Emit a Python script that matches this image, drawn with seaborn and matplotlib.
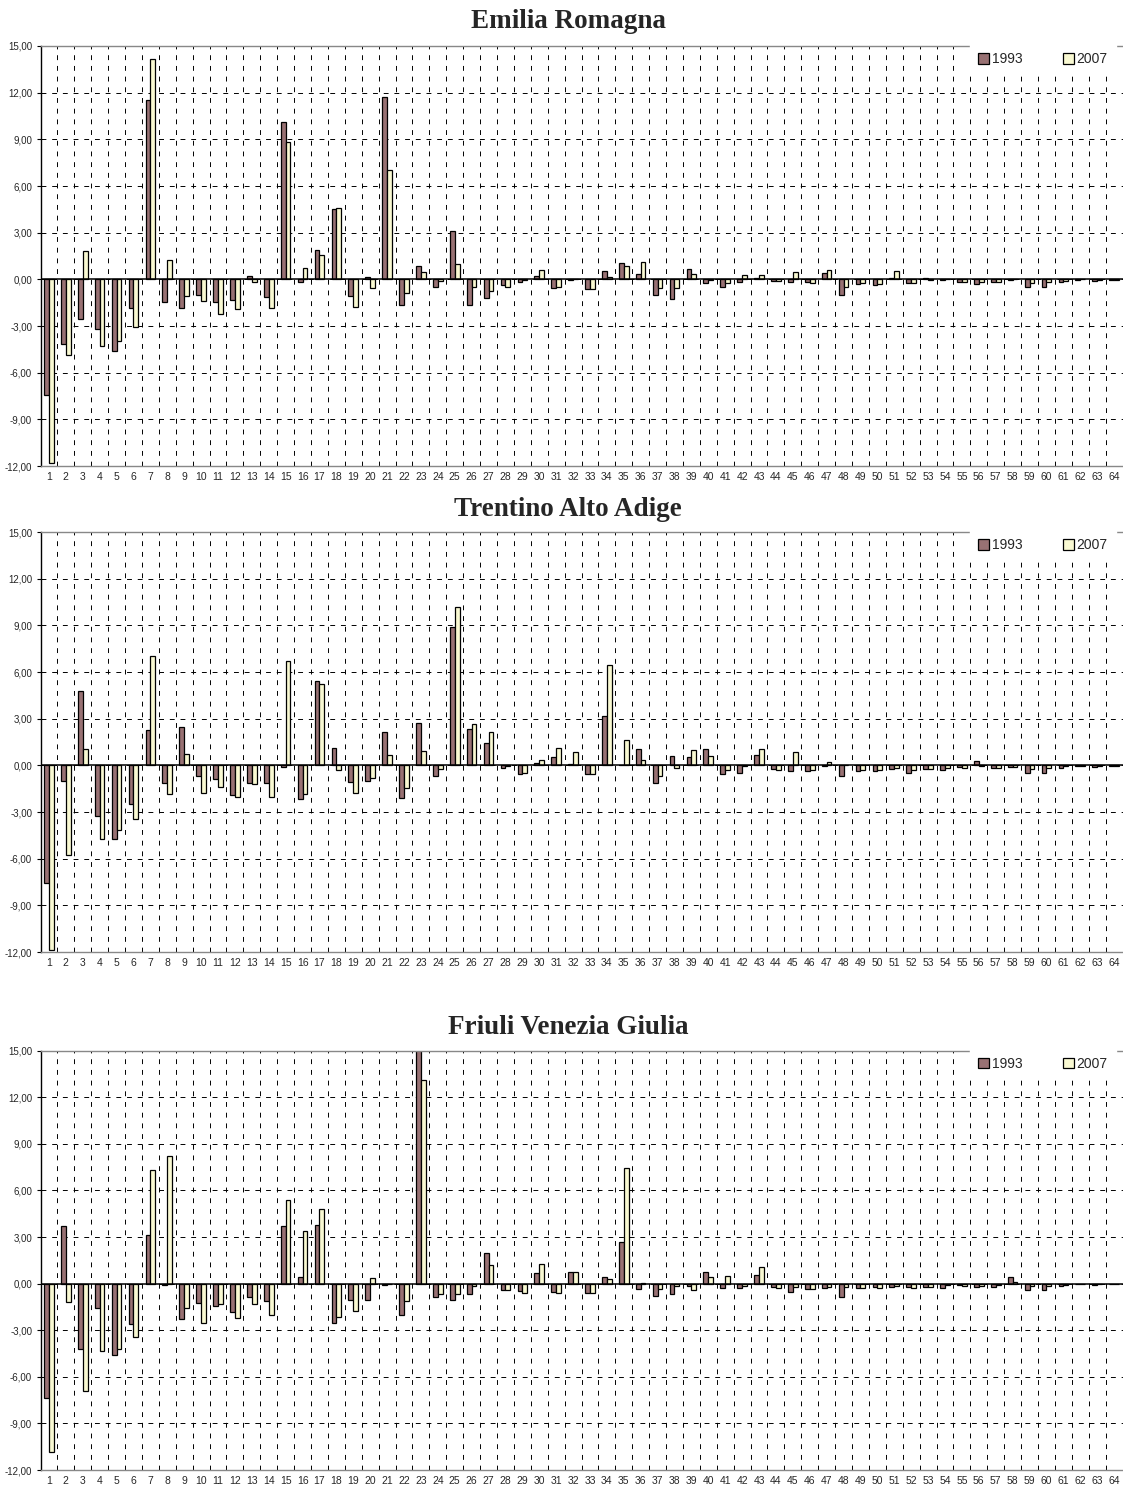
import numpy as np
import pandas as pd
import matplotlib
matplotlib.use('Agg')
import matplotlib.pyplot as plt
import matplotlib.ticker as ticker
import seaborn as sns

sns.set_style('white')
plt.rcParams['font.family'] = ['Liberation Sans', 'DejaVu Sans']

# dati
categories = list(range(1, 65))
years = ['1993', '2007']

emilia_1993 = [-7.46, -4.16, -2.57, -3.21, -4.59, -1.84, 11.51, -1.48,
               -1.82, -0.99, -1.48, -1.35, 0.24, -1.14, 10.09, -0.17,
               1.91, 4.50, -1.07, 0.13, 11.72, -1.67, 0.88, -0.49,
               3.09, -1.67, -1.22, -0.39, -0.19, 0.21, -0.56, -0.03,
               -0.60, 0.56, 1.03, 0.36, -1.03, -1.24, 0.64, -0.26,
               -0.51, -0.19, 0.06, -0.13, -0.19, -0.19, 0.39, -0.99,
               -0.30, -0.39, 0.06, -0.21, 0.06, -0.02, -0.15, -0.32,
               -0.17, -0.04, -0.51, -0.47, -0.17, -0.02, -0.13, -0.02]
emilia_2007 = [-11.83, -4.84, 1.80, -4.26, -3.99, -3.09, 14.16, 1.22,
               -1.09, -1.41, -2.21, -1.93, -0.17, -1.86, 8.81, 0.75,
               1.56, 4.61, -1.76, -0.56, 7.03, -0.90, 0.47, -0.08,
               0.96, -0.47, -0.77, -0.51, -0.04, 0.58, -0.47, 0.02,
               -0.60, 0.17, 0.88, 1.09, -0.54, -0.54, 0.32, -0.04,
               -0.21, 0.26, 0.26, -0.13, 0.49, -0.26, 0.60, -0.47,
               -0.26, -0.30, 0.51, -0.26, -0.02, 0.04, -0.19, -0.19,
               -0.17, 0.02, -0.21, -0.19, -0.13, 0.00, -0.04, -0.02]

trentino_1993 = [-7.55, -1.01, 4.80, -3.27, -4.71, -2.47, 2.26, -1.14,
                 2.47, -0.67, -0.86, -1.91, -1.14, -1.14, -0.09, -2.17,
                 5.44, 1.10, -1.10, -0.99, 2.15, -2.11, 2.71, -0.67,
                 8.92, 2.34, 1.42, -0.19, -0.54, 0.17, 0.52, 0.06,
                 -0.58, 3.16, 0.04, 1.05, -1.14, 0.60, 0.54, 1.05,
                 -0.58, -0.49, 0.69, -0.24, -0.37, -0.37, -0.04, -0.67,
                 -0.34, -0.39, -0.22, -0.52, -0.24, -0.32, -0.13, 0.30,
                 -0.19, -0.11, -0.47, -0.47, -0.17, -0.02, -0.13, -0.02]
trentino_2007 = [-11.87, -5.76, 1.05, -4.71, -4.17, -3.42, 7.01, -1.83,
                 0.75, -1.78, -1.42, -2.04, -1.23, -2.06, 6.73, -1.87,
                 5.23, -0.32, -1.78, -0.84, 0.69, -1.48, 0.90, -0.26,
                 10.15, 2.67, 2.17, -0.02, -0.52, 0.32, 1.10, 0.84,
                 -0.58, 6.48, 1.66, 0.34, -0.69, -0.17, 0.99, 0.58,
                 -0.32, -0.04, 1.05, -0.30, 0.86, -0.32, 0.22, 0.04,
                 -0.28, -0.28, -0.15, -0.30, -0.24, -0.19, -0.19, -0.02,
                 -0.19, -0.11, -0.22, -0.17, -0.06, -0.02, -0.04, -0.02]

friuli_1993 = [-7.39, 3.71, -4.22, -1.56, -4.61, -2.59, 3.13, -0.06,
               -2.27, -1.24, -1.46, -1.84, -0.88, -1.11, 3.71, 0.45,
               3.79, -2.55, -1.03, -1.07, -0.06, -1.99, 16.00, -0.84,
               -1.05, -0.64, 1.95, -0.41, -0.45, 0.71, -0.54, 0.73,
               -0.58, 0.45, 2.70, -0.36, -0.77, -0.66, -0.15, 0.73,
               -0.30, -0.26, 0.58, -0.21, -0.54, -0.32, -0.28, -0.86,
               -0.26, -0.19, -0.21, -0.19, -0.24, -0.26, -0.11, -0.21,
               -0.21, 0.43, -0.43, -0.41, -0.15, -0.02, -0.11, -0.02]
friuli_2007 = [-10.82, -1.20, -6.94, -4.35, -4.22, -3.43, 7.33, 8.25,
               -1.59, -2.53, -1.33, -2.21, -1.29, -1.99, 5.40, 3.36,
               4.78, -2.16, -1.76, 0.36, 0.00, -1.09, 13.09, -0.64,
               -0.66, -0.17, 1.22, -0.41, -0.58, 1.26, -0.62, 0.73,
               -0.58, 0.30, 7.46, 0.02, -0.32, -0.17, -0.41, 0.45,
               0.49, -0.15, 1.07, -0.28, -0.19, -0.32, -0.21, -0.21,
               -0.26, -0.26, -0.15, -0.26, -0.24, -0.11, -0.15, -0.15,
               -0.11, 0.09, -0.17, -0.17, -0.06, -0.02, -0.04, -0.02]

regions = ['Emilia Romagna', 'Trentino Alto Adige', 'Friuli Venezia Giulia']
series = [(emilia_1993, emilia_2007),
          (trentino_1993, trentino_2007),
          (friuli_1993, friuli_2007)]

colori = ['#9E6A6E', '#FFFFCC']

fig = plt.figure(figsize=(11.23, 14.90), dpi=100)

# posizioni (pixel) dei riquadri: top, bottom
boxes = [(46, 466), (532, 952), (1050.7, 1470)]
title_y = [22, 509, 1027]
W, H = 1123.0, 1490.0
dash = (0, (5, 6))

for i, (name, (v93, v07)) in enumerate(zip(regions, series)):
    top, bot = boxes[i]
    ax = fig.add_axes([40.5 / W, 1 - bot / H, 1082 / W, (bot - top) / H])

    df = pd.DataFrame({
        'cat': categories * 2,
        'value': v93 + v07,
        'year': [years[0]] * 64 + [years[1]] * 64,
    })
    sns.barplot(data=df, x='cat', y='value', hue='year', order=categories,
                hue_order=years, palette=colori, width=0.57,
                edgecolor='black', linewidth=0.9, ax=ax)

    ax.set_xlim(-0.5, 63.5)
    ax.set_ylim(-12, 15)
    ax.set_xlabel('')
    ax.set_ylabel('')

    # griglia tratteggiata
    ax.set_axisbelow(True)
    ax.set_yticks(np.arange(-12, 16, 3))
    ax.set_xticks(np.arange(-0.5, 64, 1), minor=True)
    ax.grid(which='minor', axis='x', color='black', lw=0.7, ls=dash)
    ax.grid(which='major', axis='y', color='black', lw=0.7, ls=dash)
    ax.grid(which='major', axis='x', visible=False)
    ax.axhline(0, color='black', lw=1.1, zorder=3)

    ax.yaxis.set_major_formatter(ticker.FuncFormatter(
        lambda v, p: f'{v:.2f}'.replace('.', ',')))
    ax.tick_params(axis='y', labelsize=7, length=3, width=0.8, left=True,
                   pad=3, color='black')
    ax.tick_params(axis='x', which='both', labelsize=7.5, length=0, pad=4)
    ax.set_xticks(range(64))
    ax.set_xticklabels([str(c) for c in categories])

    ax.spines['left'].set_color('black')
    ax.spines['left'].set_linewidth(1.0)
    for s in ['top', 'bottom']:
        ax.spines[s].set_color('#888888')
        ax.spines[s].set_linewidth(1.0)
    ax.spines['right'].set_visible(False)

    handles, labels = ax.get_legend_handles_labels()
    leg = ax.legend(handles, labels, loc='upper right', ncol=2,
                    bbox_to_anchor=(0.994, 1.005), fontsize=10,
                    frameon=True, facecolor='white', edgecolor='white',
                    framealpha=1, fancybox=False, handlelength=0.8,
                    handleheight=0.8, handletextpad=0.2, columnspacing=2.9,
                    borderpad=0.6, borderaxespad=0)
    leg.set_zorder(10)

    fig.text(568 / W, 1 - title_y[i] / H, name, ha='center', va='center',
             fontsize=19.5, fontweight='bold',
             family=['Liberation Serif', 'DejaVu Serif'])

fig.savefig('out.png', dpi=100)
